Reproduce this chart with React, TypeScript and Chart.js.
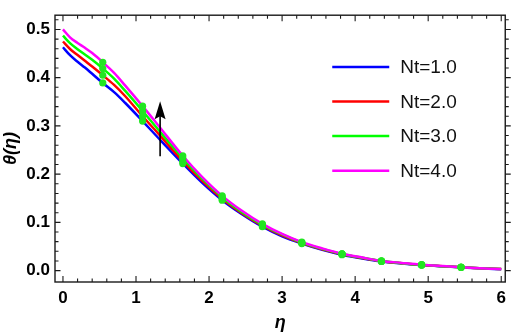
import React, { useEffect, useRef } from "react";
import { Chart, registerables } from "chart.js";

Chart.register(...registerables);

// η grid (x values) used by all curves
const eta = [0, 0.1, 0.2, 0.3, 0.4, 0.545, 0.7, 0.85, 1.09, 1.3, 1.64, 1.9, 2.18, 2.45, 2.73, 3.0, 3.27, 3.55, 3.82, 4.1, 4.36, 4.64, 4.91, 5.2, 5.45, 5.7, 6.0];

// θ(η) for each Nt
const thetaNt1 = [0.463, 0.446, 0.433, 0.421, 0.408, 0.389, 0.37, 0.348, 0.31, 0.276, 0.222, 0.183, 0.146, 0.117, 0.091, 0.071, 0.056, 0.043, 0.033, 0.025, 0.019, 0.015, 0.0115, 0.0088, 0.0068, 0.0048, 0.003];
const thetaNt2 = [0.475, 0.459, 0.447, 0.435, 0.423, 0.405, 0.385, 0.362, 0.32, 0.285, 0.227, 0.187, 0.149, 0.119, 0.093, 0.073, 0.057, 0.044, 0.034, 0.026, 0.0195, 0.0153, 0.0118, 0.009, 0.0069, 0.0049, 0.0031];
const thetaNt3 = [0.487, 0.471, 0.459, 0.448, 0.437, 0.419, 0.398, 0.373, 0.331, 0.293, 0.233, 0.191, 0.152, 0.121, 0.095, 0.075, 0.058, 0.045, 0.0345, 0.0265, 0.0198, 0.0155, 0.012, 0.0092, 0.007, 0.005, 0.0032];
const thetaNt4 = [0.5, 0.483, 0.472, 0.462, 0.451, 0.432, 0.41, 0.384, 0.341, 0.302, 0.238, 0.195, 0.155, 0.124, 0.097, 0.076, 0.059, 0.046, 0.035, 0.027, 0.02, 0.016, 0.0124, 0.0095, 0.0072, 0.005, 0.0033];

const seriesLabels = ["Nt=1.0", "Nt=2.0", "Nt=3.0", "Nt=4.0"];
const seriesColors = ["#0000ff", "#ff0000", "#00ff00", "#ff00ff"];
const seriesValues = [thetaNt1, thetaNt2, thetaNt3, thetaNt4];

// η positions of the green dot markers
const markerEta = [0.545, 1.09, 1.64, 2.18, 2.73, 3.27, 3.82, 4.36, 4.91, 5.45];
const markerColor = "#22e622";

// axes
const xMin = -0.109;
const xMax = 6.055;
const yMin = -0.0236;
const yMax = 0.5295;
const xTicks = [0, 1, 2, 3, 4, 5, 6];
const yTicks = [0, 0.1, 0.2, 0.3, 0.4, 0.5];
const xMinorTicks = [0.2, 0.4, 0.6, 0.8, 1.2, 1.4, 1.6, 1.8, 2.2, 2.4, 2.6, 2.8, 3.2, 3.4, 3.6, 3.8, 4.2, 4.4, 4.6, 4.8, 5.2, 5.4, 5.6, 5.8];
const yMinorTicks = [0.02, 0.04, 0.06, 0.08, 0.12, 0.14, 0.16, 0.18, 0.22, 0.24, 0.26, 0.28, 0.32, 0.34, 0.36, 0.38, 0.42, 0.44, 0.46, 0.48, 0.52];

// arrow annotation (η, θ from -> to)
const arrowEta = 1.33;
const arrowFrom = 0.237;
const arrowTo = 0.351;

const FONT = "'Liberation Sans', Arial, Helvetica, sans-serif";

const framePlugin = {
  id: "framePlugin",
  afterDatasetsDraw(chart: any) {
    const { ctx, chartArea: a, scales } = chart;
    const x = scales.x;
    const y = scales.y;
    ctx.save();

    // arrow
    const ax = x.getPixelForValue(arrowEta);
    const y0 = y.getPixelForValue(arrowFrom);
    const y1 = y.getPixelForValue(arrowTo);
    ctx.strokeStyle = "#000";
    ctx.fillStyle = "#000";
    ctx.lineWidth = 1.6;
    ctx.beginPath();
    ctx.moveTo(ax, y0);
    ctx.lineTo(ax, y1 + 12);
    ctx.stroke();
    ctx.beginPath();
    ctx.moveTo(ax, y1);
    ctx.lineTo(ax - 5.5, y1 + 18);
    ctx.lineTo(ax, y1 + 15);
    ctx.lineTo(ax + 5.5, y1 + 18);
    ctx.closePath();
    ctx.fill();

    // frame
    ctx.strokeStyle = "#1a1a1a";
    ctx.lineWidth = 1.4;
    ctx.strokeRect(a.left, a.top, a.right - a.left, a.bottom - a.top);

    // ticks
    ctx.lineWidth = 1.1;
    ctx.beginPath();
    const xt = (v: number, len: number) => {
      const px = x.getPixelForValue(v);
      ctx.moveTo(px, a.bottom);
      ctx.lineTo(px, a.bottom - len);
      ctx.moveTo(px, a.top);
      ctx.lineTo(px, a.top + len);
    };
    const yt = (v: number, len: number) => {
      const py = y.getPixelForValue(v);
      ctx.moveTo(a.left, py);
      ctx.lineTo(a.left + len, py);
      ctx.moveTo(a.right, py);
      ctx.lineTo(a.right + len, py);
    };
    xTicks.forEach((v) => xt(v, 6));
    xMinorTicks.forEach((v) => xt(v, 3.5));
    yTicks.forEach((v) => yt(v, 5.5));
    yMinorTicks.forEach((v) => yt(v, 3.5));
    ctx.stroke();

    // legend
    ctx.font = `19px ${FONT}`;
    ctx.textBaseline = "middle";
    ctx.textAlign = "left";
    seriesLabels.forEach((lab, i) => {
      const ly = a.top + 51.7 + i * 34.6;
      ctx.strokeStyle = seriesColors[i];
      ctx.lineWidth = 2.5;
      ctx.beginPath();
      ctx.moveTo(a.right - 173, ly);
      ctx.lineTo(a.right - 116, ly);
      ctx.stroke();
      ctx.fillStyle = "#111";
      ctx.fillText(lab, a.right - 105, ly + 1);
    });

    ctx.restore();
  },
};

export default function App() {
  const ref = useRef<HTMLCanvasElement | null>(null);

  useEffect(() => {
    if (!ref.current) return;
    const lineSets = seriesValues.map((vals, i) => ({
      label: seriesLabels[i],
      data: eta.map((e, k) => ({ x: e, y: vals[k] })),
      borderColor: seriesColors[i],
      backgroundColor: seriesColors[i],
      borderWidth: 2.5,
      pointRadius: 0,
      tension: 0.4,
      cubicInterpolationMode: "monotone" as const,
      fill: false,
      order: 4 - i,
    }));
    const markerPoints: { x: number; y: number }[] = [];
    seriesValues.forEach((vals) => {
      markerEta.forEach((m) => {
        const k = eta.indexOf(m);
        if (k >= 0) markerPoints.push({ x: m, y: vals[k] });
      });
    });
    const markerSet = {
      label: "markers",
      data: markerPoints,
      showLine: false,
      pointRadius: 3.6,
      pointBackgroundColor: markerColor,
      pointBorderWidth: 0,
      borderColor: markerColor,
      backgroundColor: markerColor,
      order: 0,
    };

    const chart = new Chart(ref.current, {
      type: "line",
      data: { datasets: [...lineSets, markerSet] as any },
      options: {
        animation: false,
        responsive: false,
        maintainAspectRatio: false,
        devicePixelRatio: 1,
        layout: { padding: { top: 1, right: 5, left: 0, bottom: 0 } },
        plugins: { legend: { display: false }, tooltip: { enabled: false } },
        scales: {
          x: {
            type: "linear",
            min: xMin,
            max: xMax,
            grid: { display: false, drawTicks: false },
            border: { display: false },
            afterBuildTicks: (s: any) => {
              s.ticks = xTicks.map((v) => ({ value: v }));
            },
            afterFit: (s: any) => {
              s.height = 53;
            },
            ticks: {
              padding: 6,
              color: "#000",
              font: { family: FONT, size: 17, weight: "bold" },
              callback: (v: any) => String(v),
              maxRotation: 0,
            },
            title: {
              display: true,
              text: "η",
              color: "#000",
              font: { family: FONT, size: 18, weight: "bold", style: "italic" },
              padding: { top: 0, bottom: 1 },
            },
          },
          y: {
            type: "linear",
            min: yMin,
            max: yMax,
            grid: { display: false, drawTicks: false },
            border: { display: false },
            afterBuildTicks: (s: any) => {
              s.ticks = yTicks.map((v) => ({ value: v }));
            },
            afterFit: (s: any) => {
              s.width = 55;
            },
            ticks: {
              padding: 5,
              color: "#000",
              font: { family: FONT, size: 17, weight: "bold" },
              callback: (v: any) => Number(v).toFixed(1),
            },
            title: {
              display: true,
              text: "θ(η)",
              color: "#000",
              font: { family: FONT, size: 18, weight: "bold", style: "italic" },
              padding: { top: 0, bottom: 0 },
            },
          },
        },
      },
      plugins: [framePlugin],
    });
    return () => chart.destroy();
  }, []);

  return (
    <div style={{ position: "absolute", left: 0, top: 0, width: 512, height: 335, background: "#fff" }}>
      <canvas ref={ref} width={512} height={335} style={{ display: "block" }} />
    </div>
  );
}
